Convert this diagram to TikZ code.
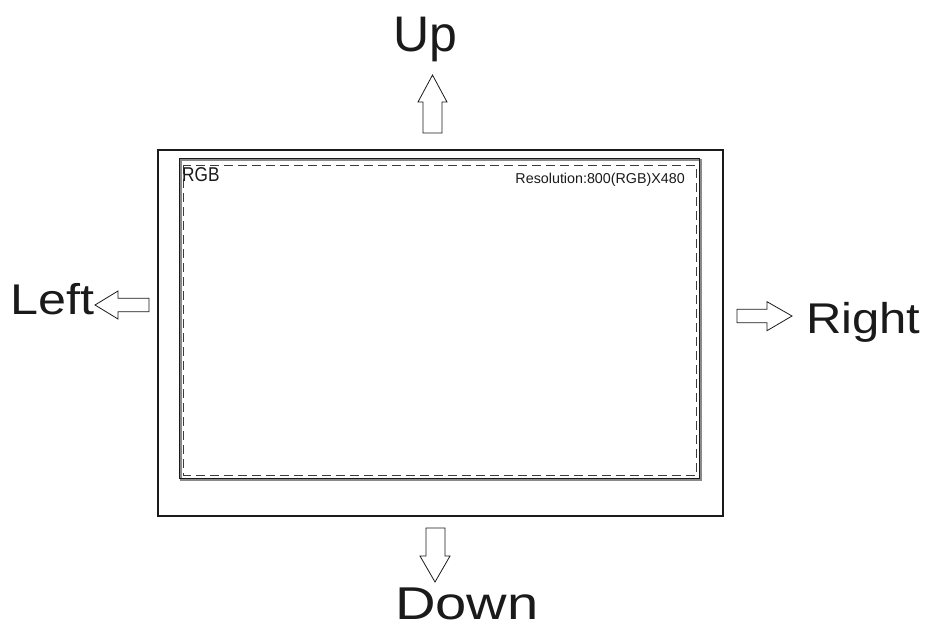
\documentclass[tikz,border=0pt]{standalone}
\usepackage{fontspec}
\setmainfont{Liberation Sans}
\definecolor{ink}{HTML}{1A1A1A}
\definecolor{shade}{HTML}{8A8A8A}
\begin{document}
\begin{tikzpicture}[x=1pt,y=-1pt,
  bigtext/.style={inner sep=0pt,text=ink,anchor=base west},
  arrowshape/.style={draw=ink,line width=0.8pt,fill=white,line join=miter},
  frame/.style={draw=ink,line width=2pt},
  panel/.style={draw=shade,line width=1.8pt},
  panelline/.style={draw=ink,line width=0.5pt},
  dashbox/.style={draw=ink!85,line width=0.8pt,dash pattern=on 9pt off 5pt}]
\useasboundingbox (0,0) rectangle (925,624);
% outer frame
\draw[frame] (158,150) rectangle (723,516);
% inner panel
\draw[panel] (181,160) rectangle (701,480);
\draw[panelline] (179.5,158.5) rectangle (699.5,478.5);
\draw[dashbox] (183.5,165) rectangle (696,475);
% labels inside
\node[bigtext,font=\fontsize{20}{20}\selectfont] (rgb) at (182,181.8) {\scalebox{0.86}[1]{RGB}};
\node[inner sep=0pt,text=ink,anchor=base east,font=\fontsize{14.3}{14.3}\selectfont] (res) at (685,183.3) {Resolution:800(RGB)X480};
% up arrow
\draw[arrowshape] (432.5,75) -- (447,102) -- (442,102) -- (442,133) -- (423,133) -- (423,102) -- (418,102) -- cycle;
\node[bigtext,font=\fontsize{50}{50}\selectfont] (up) at (393,51) {Up};
% down arrow
\draw[arrowshape] (426,528) -- (445,528) -- (445,556) -- (450,556) -- (435,582) -- (420,556) -- (426,556) -- cycle;
\node[bigtext,font=\fontsize{46}{46}\selectfont] (down) at (395,619) {\scalebox{1.22}[1]{Down}};
% left arrow
\draw[arrowshape] (95,305) -- (118,291) -- (118,298.3) -- (149,298.3) -- (149,311.7) -- (118,311.7) -- (118,319) -- cycle;
\node[bigtext,font=\fontsize{43}{43}\selectfont] (left) at (10,314) {\scalebox{1.17}[1]{Left}};
% right arrow
\draw[arrowshape] (737,309.3) -- (767,309.3) -- (767,301.7) -- (792,316) -- (767,330.7) -- (767,322.7) -- (737,322.7) -- cycle;
\node[bigtext,font=\fontsize{43}{43}\selectfont] (right) at (806,333.5) {\scalebox{1.14}[1]{Right}};
\end{tikzpicture}
\end{document}
